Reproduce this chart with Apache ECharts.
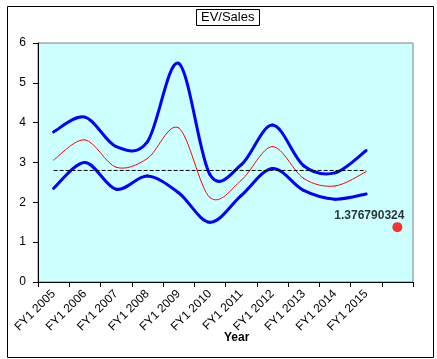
<!DOCTYPE html>
<html><head><meta charset="utf-8">
<script src="https://cdn.jsdelivr.net/npm/echarts@6/dist/echarts.min.js"></script>
<style>html,body{margin:0;padding:0;background:#fff}#c{width:437px;height:359px}</style>
</head><body><div id="c"></div>
<script>
const categories = ['FY1 2005','FY1 2006','FY1 2007','FY1 2008','FY1 2009','FY1 2010','FY1 2011','FY1 2012','FY1 2013','FY1 2014','FY1 2015',''];
const upperBand = [3.77,4.14,3.40,3.52,5.49,2.70,2.94,3.94,2.92,2.74,3.30];
const midLine   = [3.06,3.57,2.88,3.10,3.87,2.12,2.55,3.40,2.60,2.41,2.77];
const lowerBand = [2.35,3.00,2.33,2.66,2.24,1.50,2.17,2.85,2.30,2.08,2.21];
const avgLine   = [2.8,2.8,2.8,2.8,2.8,2.8,2.8,2.8,2.8,2.8,2.8];
const currentValue = [null,null,null,null,null,null,null,null,null,null,null,1.376790324];
const yTicks = [0,1,2,3,4,5,6];

const font = 'Liberation Sans, Arial, sans-serif';

// Excel-style smoothed line: Catmull-Rom bezier segments through library coordinates
function smoothSeries(arr, color, width) {
  return {
    type:'custom',
    data: arr.map((v,i)=>[i,v]),
    encode:{x:0,y:1},
    renderItem:function(params, api){
      const i = params.dataIndex, n = arr.length;
      if (i >= n-1) return null;
      const P = k => { k = Math.max(0, Math.min(n-1, k)); return api.coord([k, arr[k]]); };
      const p0 = P(i-1), p1 = P(i), p2 = P(i+1), p3 = P(i+2);
      return {
        type:'bezierCurve',
        shape:{
          x1:p1[0], y1:p1[1], x2:p2[0], y2:p2[1],
          cpx1:p1[0]+(p2[0]-p0[0])/6, cpy1:p1[1]+(p2[1]-p0[1])/6,
          cpx2:p2[0]-(p3[0]-p1[0])/6, cpy2:p2[1]-(p3[1]-p1[1])/6
        },
        style:{stroke:color, lineWidth:width, fill:null, lineCap:'round'}
      };
    }
  };
}

const chart = echarts.init(document.getElementById('c'), null, {renderer:'canvas'});
chart.setOption({
  animation:false,
  backgroundColor:'#fff',
  title:{text:'EV/Sales',left:196,top:9,padding:[2,5,2,5],borderColor:'#000',borderWidth:1,
    textStyle:{fontFamily:font,fontSize:13,fontWeight:'normal',color:'#000'}},
  grid:{left:38,top:43,right:24,bottom:77,show:true,backgroundColor:'#ccffff',borderColor:'#808080',borderWidth:1},
  graphic:[
    {type:'rect',left:5,top:4,shape:{width:426,height:351},style:{fill:'none',stroke:'#000',lineWidth:1},z:-1},
    {type:'text',left:224,top:332,style:{text:'Year',font:'bold 12px '+font,fill:'#000'}}
  ],
  xAxis:{type:'category',data:categories,boundaryGap:true,
    axisLine:{lineStyle:{color:'#000'}},axisTick:{show:true,alignWithLabel:false,length:5,lineStyle:{color:'#000'}},
    axisLabel:{rotate:45,interval:0,fontFamily:font,fontSize:12,color:'#000',margin:10},splitLine:{show:false}},
  yAxis:{type:'value',min:yTicks[0],max:yTicks[yTicks.length-1],interval:1,
    axisLine:{show:true,lineStyle:{color:'#000'}},axisTick:{show:true,length:5,lineStyle:{color:'#000'}},
    axisLabel:{fontFamily:font,fontSize:12,color:'#000',margin:12},splitLine:{show:false}},
  series:[
    smoothSeries(upperBand,'#0000ff',3),
    smoothSeries(lowerBand,'#0000ff',3),
    smoothSeries(midLine,'#ff0000',1),
    {type:'line',data:avgLine,symbol:'none',lineStyle:{color:'#000',width:1,type:[4,2]}},
    {type:'scatter',data:currentValue,symbolSize:10,itemStyle:{color:'#ff0000'},
      label:{show:true,position:'top',offset:[-28,5],formatter:p=>String(p.value),
        fontFamily:font,fontSize:12,fontWeight:'bold',color:'#000'}}
  ]
});
</script></body></html>
